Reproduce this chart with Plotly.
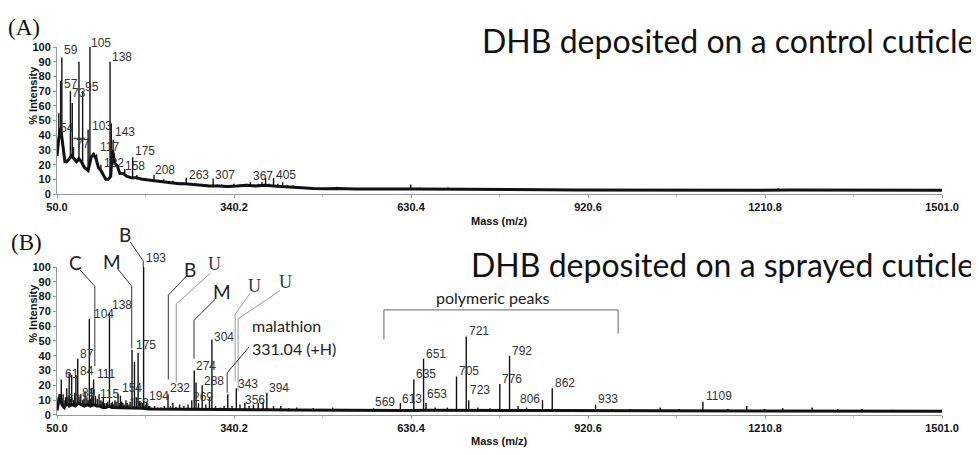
import plotly.graph_objects as go

# ------------------------------------------------------------------ DATA
# x-axis ticks (m/z)
x_tick_vals = [50.0, 340.2, 630.4, 920.6, 1210.8, 1501.0]
y_tick_vals = [0, 10, 20, 30, 40, 50, 60, 70, 80, 90, 100]

# (A) control cuticle: noisy baseline (m/z, % intensity)
a_base_mz = [50, 53, 56, 60, 63, 66, 70, 74, 78, 82, 86, 90, 95, 98, 101, 106, 110, 114, 118,
             122, 126, 130, 134, 138, 141, 145, 149, 153, 158, 165, 172, 180, 190, 200, 210,
             220, 230, 240, 250, 260, 270, 280, 290, 300, 315, 330, 345, 360, 375, 390, 405,
             420, 435, 450, 470, 490, 510, 540, 570, 600, 640, 680, 720, 760, 800, 850, 900,
             950, 1000, 1050, 1100, 1150, 1200, 1250, 1300, 1350, 1400, 1450, 1501]
a_base_int = [26, 38, 45, 30, 22, 22, 24, 26, 24, 22, 24, 22, 18, 17, 16, 25, 27, 24, 18,
              16, 13, 10, 10, 12, 30, 21, 19, 14, 14, 12, 11, 11, 10, 9.5, 9,
              8.5, 8, 7.5, 7, 7, 6.5, 6, 6, 5.5, 5.5, 5.2, 5.5, 6, 5.5, 6, 5.5,
              5, 4.5, 4, 3.8, 3.6, 3.8, 3.5, 3.3, 3.4, 3.5, 3.3, 3.2, 3.1, 3.0, 2.9, 2.8,
              2.7, 2.7, 2.6, 2.6, 2.6, 2.6, 2.7, 2.6, 2.6, 2.7, 2.6, 2.5]
# (A) peaks
a_peak_mz = [53, 56, 58, 72, 75, 77, 86, 92, 101, 104, 110, 115, 122, 137, 139, 142, 150,
             156, 161, 167, 174, 181, 188, 195, 202, 209, 217, 225, 232, 240, 248, 255, 262,
             270, 278, 287, 296, 306, 313, 320, 330, 340, 350, 361, 367, 374, 380, 386, 392,
             398, 405, 412, 420, 428, 437, 450, 470, 509, 560, 630, 645, 691, 1232, 1296, 1355]
a_peak_int = [55, 77, 93, 70, 62, 32, 90, 70, 44, 100, 28, 27, 20, 90, 48, 37, 15,
              14, 17, 12, 25, 13, 11, 11, 10, 13, 9, 10, 8.5, 9, 8, 8, 11,
              7.5, 7, 7, 6.5, 10.5, 6.5, 6.5, 6, 7, 6, 7, 8, 6.5, 7, 8, 11,
              7, 11, 7, 8, 6, 6, 5, 4.5, 5, 4, 6.5, 4.5, 4.5, 4, 3.5, 3.5]
a_labels = ["59", "57", "73", "95", "54", "77", "105", "138", "103", "143", "117", "122",
            "175", "158", "208", "263", "307", "367", "405"]

# (B) sprayed cuticle: noisy baseline
b_base_mz = [50, 53, 55, 58, 62, 66, 70, 75, 80, 85, 90, 95, 100, 105, 110, 115, 120, 125,
             130, 135, 140, 150, 160, 170, 180, 190, 200, 215, 230, 245, 260, 280, 300, 320,
             340, 360, 380, 400, 430, 460, 500, 540, 580, 620, 660, 700, 750, 800, 850, 900,
             950, 1000, 1050, 1100, 1150, 1200, 1250, 1300, 1350, 1400, 1450, 1501]
b_base_int = [3, 9, 14, 7, 5, 8, 6, 7, 6, 8, 7, 6, 7, 6, 7, 6, 6, 5,
              5, 6, 5, 5, 4.5, 5, 4.5, 4.5, 4, 4, 4, 3.8, 4, 4, 3.8, 3.8,
              4, 3.8, 3.6, 3.5, 3.3, 3.2, 3, 3, 3, 3, 3.2, 3, 3, 3, 3, 3,
              2.9, 2.9, 2.8, 2.8, 2.8, 2.8, 2.7, 2.7, 2.7, 2.6, 2.6, 2.5]
# (B) peaks
b_peak_mz = [52, 54, 57, 60, 63, 64, 66, 68, 70, 72, 74, 77, 79, 81, 84, 86, 89, 92, 94, 96,
             99, 101, 103, 105, 107, 109, 110, 113, 116, 119, 122, 124, 126, 128, 131, 133,
             136, 139, 141, 143, 145, 147, 150, 152, 154, 156, 158, 160, 163, 165, 168, 170,
             173, 177, 180, 183, 185, 187, 190, 192, 195, 197, 200, 202, 205, 210, 215, 220,
             226, 232, 236, 240, 245, 251, 258, 265, 271, 275, 278, 282, 288, 294, 300, 304,
             310, 318, 324, 330, 337, 344, 350, 358, 365, 372, 380, 388, 394, 405, 417, 430,
             443, 470, 485, 502, 530, 550, 569, 590, 613, 635, 651, 655, 670, 690, 705, 721,
             725, 740, 760, 776, 792, 806, 820, 846, 862, 880, 900, 933, 960, 990, 1039, 1070,
             1109, 1150, 1181, 1210, 1240, 1288, 1330, 1370, 1420]
b_peak_int = [12, 9, 24, 14, 10, 12, 18, 12, 28, 11, 27, 10, 15, 27, 38, 12, 14, 10, 11, 16,
              12, 10, 65, 11, 18, 12, 24, 13, 11, 14, 10, 9, 12, 8, 8, 9,
              69, 8, 9, 7, 10, 9, 14, 8, 13, 9, 8, 7, 10, 8, 7, 9,
              44, 36, 12, 42, 9, 8, 8, 100, 7, 9, 6, 6, 5, 6, 5, 5,
              6, 14, 6, 8, 5.5, 7, 6, 7, 10, 30, 22, 8, 20, 7, 12, 51,
              6, 5, 6, 14, 6, 18, 7, 8, 6, 7, 8, 9, 15, 6, 6, 4.5,
              5, 4.5, 4, 5, 4, 4, 4.5, 4, 8, 24, 38, 8, 5, 5, 26, 53,
              10, 5, 4.5, 21, 40, 6, 5, 10, 18, 4, 4, 7, 4, 4, 5, 4,
              9, 4, 6, 4, 4.5, 5, 4, 4, 3.5]
b_labels = ["61", "63", "87", "84", "89", "104", "111", "115", "138", "154", "158", "175",
            "193", "194", "232", "269", "274", "288", "304", "343", "356", "394", "569",
            "613", "635", "651", "653", "705", "721", "723", "776", "792", "806", "862",
            "933", "1109"]

titles = ["DHB deposited on a control cuticle", "DHB deposited on a sprayed cuticle"]

# ------------------------------------------------------------------ LAYOUT HELPERS
# The page body has an 8px margin, so the figure is drawn 8px smaller and all
# positions below are given in window pixels and converted.
OFF = 8
W, H = 979 - OFF, 455 - OFF
L_WIN, R_WIN = 57, 942
L_PX, R_PX = L_WIN - OFF, R_WIN - OFF


def px_x(px):
    return (px - OFF - L_PX) / (R_PX - L_PX)


def px_y(py):
    return 1 - (py - OFF) / H


domA = [px_y(193), px_y(42)]
domB = [px_y(420), px_y(268)]


def iy(v, dom):
    return dom[0] + v / 100.0 * (dom[1] - dom[0])


# label anchor positions (left edge m/z, centre intensity)
a_label_pos = [(58, 98), (58, 75), (71, 69), (93, 73), (52, 45), (78, 34), (103, 103),
               (137, 93), (104, 46), (142, 42), (117, 32), (124, 21), (175, 29), (158, 19),
               (207, 16.5), (263, 13), (306, 13), (368, 12.5), (406, 13)]
b_label_pos = [(60, 28), (63, 10.5), (85, 41), (85, 30), (88, 15), (107, 68), (112, 28),
               (117, 14), (137, 74), (153, 18), (164, 8), (177, 47), (192, 106), (197, 13),
               (232, 18), (270, 12), (275, 33), (288, 23), (304, 53), (343, 21), (355, 10),
               (394, 18), (568, 9), (613, 10.5), (635, 27.6), (652, 41.5), (653, 14),
               (706, 29.6), (722, 57), (724, 17), (776, 24), (793, 43), (806, 10.5),
               (863, 21.7), (933, 11), (1111, 13)]

fig = go.Figure()


def add_panel(base_mz, base_int, peak_mz, peak_int, xa, ya):
    sx, sy = [], []
    for m, h in zip(peak_mz, peak_int):
        sx += [m, m, None]
        sy += [0, h, None]
    fig.add_trace(go.Scatter(x=sx, y=sy, mode="lines", line=dict(color="#111", width=1.4),
                             xaxis=xa, yaxis=ya, hoverinfo="skip", showlegend=False))
    fig.add_trace(go.Scatter(x=base_mz, y=base_int, mode="lines", fill="tozeroy",
                             fillcolor="white", line=dict(color="#111", width=3),
                             xaxis=xa, yaxis=ya, hoverinfo="skip", showlegend=False))


add_panel(a_base_mz, a_base_int, a_peak_mz, a_peak_int, "x", "y")
add_panel(b_base_mz, b_base_int, b_peak_mz, b_peak_int, "x2", "y2")

tickfont = dict(family="Liberation Sans", size=11, color="#111", weight="bold")
xcommon = dict(range=[50, 1501], tickmode="array", tickvals=x_tick_vals,
               ticktext=["%.1f" % v for v in x_tick_vals], ticks="outside", ticklen=3,
               tickcolor="#999", showline=True, linecolor="#999", linewidth=1,
               showgrid=False, zeroline=False, tickfont=tickfont,
               minor=dict(tickmode="linear", tick0=50, dtick=145.1, ticks="outside",
                          ticklen=2, tickcolor="#bbb"))
ycommon = dict(range=[0, 100], tickmode="array", tickvals=y_tick_vals, ticks="outside",
               ticklen=3, tickcolor="#999", showline=True, linecolor="#999", linewidth=1,
               showgrid=False, zeroline=False, tickfont=tickfont)

fig.update_layout(
    width=W, height=H, margin=dict(l=L_PX, r=W - R_PX, t=0, b=0, pad=0),
    paper_bgcolor="white", plot_bgcolor="white", showlegend=False,
    xaxis=dict(domain=[0, 1], anchor="y", **xcommon),
    yaxis=dict(domain=domA, anchor="x", **ycommon),
    xaxis2=dict(domain=[0, 1], anchor="y2", **xcommon),
    yaxis2=dict(domain=domB, anchor="x2", **ycommon),
)

ann = []
lab_font = dict(family="Liberation Sans", size=12, color="#333")
for t, (x, y) in zip(a_labels, a_label_pos):
    ann.append(dict(text=t, x=x, y=iy(y, domA), xref="x", yref="paper", xanchor="left",
                    yanchor="middle", align="left", showarrow=False, font=lab_font))
for t, (x, y) in zip(b_labels, b_label_pos):
    ann.append(dict(text=t, x=x, y=iy(y, domB), xref="x2", yref="paper", xanchor="left",
                    yanchor="middle", align="left", showarrow=False, font=lab_font))

# letter annotations in (B)
letter_sans = dict(family="Lato", size=19, color="#222")
letter_serif = dict(family="Liberation Serif", size=18, color="#333")
letters = [("C", 81, 103, letter_sans), ("M", 140, 104, letter_sans),
           ("B", 161.5, 122, letter_sans), ("B", 268, 98, letter_sans),
           ("U", 309, 102, letter_serif), ("M", 320, 83.5, letter_sans),
           ("U", 374.6, 87, letter_serif), ("U", 424, 90, letter_serif)]
for t, x, y, f in letters:
    ann.append(dict(text=t, x=x, y=iy(y, domB), xref="x2", yref="paper", xanchor="center",
                    yanchor="middle", showarrow=False, font=f))

txt_font = dict(family="Lato", size=16, color="#222")
ann.append(dict(text="malathion", x=366, y=iy(60.5, domB), xref="x2", yref="paper",
                xanchor="left", yanchor="middle", align="left", showarrow=False,
                font=txt_font))
ann.append(dict(text="331.04 (+H)", x=366, y=iy(44.7, domB), xref="x2", yref="paper",
                xanchor="left", yanchor="middle", align="left", showarrow=False,
                font=txt_font))
ann.append(dict(text="polymeric peaks", x=765, y=iy(79.6, domB), xref="x2", yref="paper",
                xanchor="center", yanchor="middle", showarrow=False, font=txt_font))

# titles, panel letters, axis titles
title_font = dict(family="Lato", size=32, color="#111")
ann.append(dict(text=titles[0], x=px_x(976), y=px_y(35), xref="paper", yref="paper",
                xanchor="right", yanchor="middle", showarrow=False, font=title_font))
ann.append(dict(text=titles[1], x=px_x(976), y=px_y(265), xref="paper", yref="paper",
                xanchor="right", yanchor="middle", showarrow=False, font=title_font))
pf = dict(family="Liberation Serif", size=23, color="#111")
ann.append(dict(text="(A)", x=px_x(24), y=px_y(22), xref="paper", yref="paper",
                xanchor="center", yanchor="middle", showarrow=False, font=pf))
ann.append(dict(text="(B)", x=px_x(26), y=px_y(243), xref="paper", yref="paper",
                xanchor="center", yanchor="middle", showarrow=False, font=pf))
af = dict(family="Liberation Sans", size=11, color="#111", weight="bold")
for yc in (92, 316):
    ann.append(dict(text="% Intensity", x=px_x(33), y=px_y(yc), xref="paper", yref="paper",
                    textangle=-90, xanchor="center", yanchor="middle", showarrow=False,
                    font=af))
for yc in (221, 447):
    ann.append(dict(text="Mass (m/z)", x=0.5, y=px_y(yc), xref="paper", yref="paper",
                    xanchor="center", yanchor="middle", showarrow=False, font=af))

# leader lines
shapes = []


def poly(points, xref, dom, color):
    d = "M " + " L ".join("%g,%g" % (x, iy(y, dom)) for x, y in points)
    shapes.append(dict(type="path", path=d, xref=xref, yref="paper",
                       line=dict(color=color, width=1)))


dark, grey = "#333", "#999"
poly([(77, 38), (96, 38)], "x", domA, "#222")
poly([(88, 98), (112, 87), (112, 33)], "x2", domB, dark)
poly([(149, 99), (172.5, 87), (172.5, 45)], "x2", domB, dark)
poly([(170, 117), (191.5, 104), (191.5, 100)], "x2", domB, dark)
poly([(262.6, 94), (232.5, 81), (232.5, 24)], "x2", domB, dark)
poly([(302, 96), (245.5, 75), (245.5, 22)], "x2", domB, grey)
poly([(309, 78), (274.6, 64), (274.6, 38)], "x2", domB, dark)
poly([(366, 82), (342, 68), (342, 23)], "x2", domB, grey)
poly([(415.6, 84), (347, 65), (347, 16)], "x2", domB, grey)
poly([(365, 46), (329, 28.5), (329, 15)], "x2", domB, dark)
poly([(586, 51), (586, 71), (970, 71), (970, 55)], "x2", domB, "#666")

fig.update_layout(annotations=ann, shapes=shapes)
fig.write_html("out.html")
